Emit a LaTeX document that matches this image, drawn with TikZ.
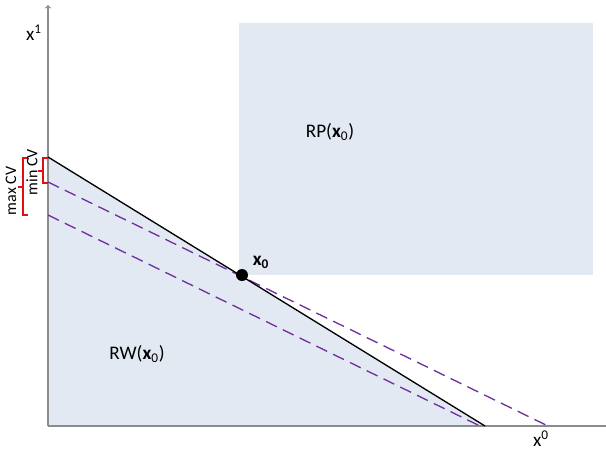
\documentclass[tikz,border=0pt]{standalone}
\usepackage{fontspec}
\setmainfont{Carlito}
\usepackage{xcolor}
\usetikzlibrary{calc}
\usetikzlibrary{positioning,arrows}

\definecolor{setblue}{HTML}{E3E9F3}
\definecolor{cvpurple}{HTML}{7030A0}
\definecolor{cvred}{HTML}{E01010}
\definecolor{axisgray}{HTML}{8C8C8C}

\tikzset{cvline/.style = {cvpurple, line width=1pt, dash pattern=on 9pt off 5pt}}
\tikzset{cvbrace/.style = {cvred, line width=1pt}}

\begin{document}
\begin{tikzpicture}[x=0.75pt, y=-0.75pt, font=\Large]
\useasboundingbox (0,0) rectangle (606,451);

\coordinate (o) at (48,426);
\coordinate (ytop) at (48,5);
\coordinate (xend) at (606,426);
\coordinate (bl) at (48,157);
\coordinate (br) at (485,426);
\coordinate (minl) at (48,182);
\coordinate (minr) at (548,426);
\coordinate (maxl) at (48,215);
\coordinate (maxr) at (480,426);

% Preferred set RP(x0)
\fill[setblue] (239,23) rectangle (593,275);
% Feasible set RW(x0)
\fill[setblue] (bl) -- (br) -- (o) -- cycle;

% axes
\draw[axisgray, thick, ->] (o) -- (ytop);
\draw[axisgray, thick] (o) -- (xend);

% budget line and compensated lines
\draw[cvline] (minl) -- (minr);
\draw[cvline] (maxl) -- (maxr);
\draw[line width=1pt] (bl) -- (br);

% point x0
\node[circle, fill=black, inner sep=0pt, minimum size=9pt] (x0) at (242,275) {};
\node (x0lab) at (261,262) {\textbf{x\textsubscript{0}}};

% min CV and max CV brackets
\draw[cvbrace] (48,158) -- (43,158) -- (43,183) -- (48,183);
\draw[cvbrace] (43,171) -- (38,171);
\draw[cvbrace] (28,158) -- (23,158) -- (23,215) -- (28,215);
\draw[cvbrace] (23,187) -- (18,187);
\node[rotate=90, font=\large] (minlab) at (32,172) {min CV};
\node[rotate=90, font=\large] (maxlab) at (11,191) {max CV};

% labels
\node (ylab) at (34,33) {x\textsuperscript{1}};
\node (xlab) at (541,439) {x\textsuperscript{0}};
\node (rp) at (330,132) {RP(\textbf{x}\textsubscript{0})};
\node (rw) at (137,354) {RW(\textbf{x}\textsubscript{0})};
\end{tikzpicture}
\end{document}
